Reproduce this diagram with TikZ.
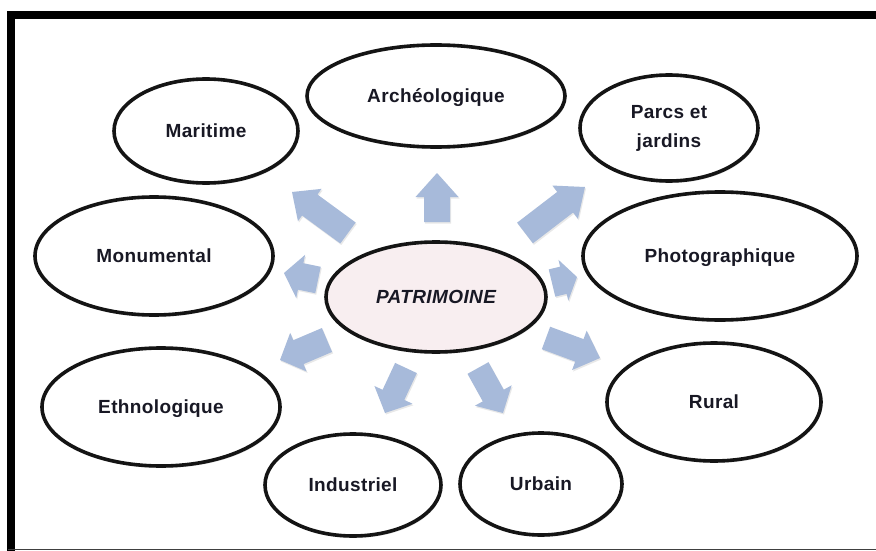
\documentclass[tikz,border=0pt]{standalone}
\usepackage{fontspec}
\newfontfamily\lbl{Liberation Sans}[LetterSpace=2]
\usetikzlibrary{shapes.geometric,calc,shadows}
\definecolor{arrowblue}{RGB}{167,186,218}
\definecolor{patfill}{RGB}{248,238,240}
\definecolor{txt}{RGB}{24,24,36}
\newcommand{\blockarr}[5]{% tail, tip, half shaft, half head, head length
  \coordinate (hb) at ($(#2)!#5!(#1)$);
  \fill[blockarrow] ($(#1)!#3!90:(#2)$) -- ($(hb)!#3!90:(#2)$) -- ($(hb)!#4!90:(#2)$) -- (#2)
    -- ($(hb)!#4!-90:(#2)$) -- ($(hb)!#3!-90:(#2)$) -- ($(#1)!#3!-90:(#2)$) -- cycle;
}
\begin{document}
\begin{tikzpicture}[x=1pt,y=-1pt,
  oval/.style={ellipse, draw=black!92, line width=3.6pt, fill=white, inner sep=0pt,
    font=\lbl\fontsize{19}{29}\selectfont\bfseries, text=txt, align=center,
    drop shadow={shadow xshift=1.2pt, shadow yshift=-2pt, opacity=0.22}},
  oneline/.style={text height=13.6pt, text depth=0pt},
  blockarrow/.style={fill=arrowblue, drop shadow={shadow xshift=1pt, shadow yshift=-1.5pt, opacity=0.18}}]
\fill[white] (0,0) rectangle (876,551);
\useasboundingbox (0,0) rectangle (876,551);
% frame
\draw[line width=8pt, line cap=butt, line join=miter] (11.3,551) -- (11.3,15) -- (876,15);
\draw[line width=1.3pt, black!75] (8,549.5) -- (876,549.5);
% arrow end points
\coordinate (tA) at (437,222); \coordinate (pA) at (437,173);
\coordinate (tM) at (348,233); \coordinate (pM) at (292,192);
\coordinate (tP) at (525,233); \coordinate (pP) at (585,187);
\coordinate (tMo) at (318,280); \coordinate (pMo) at (284,273);
\coordinate (tPh) at (552,283); \coordinate (pPh) at (577,277);
\coordinate (tE) at (327,340); \coordinate (pE) at (280,360);
\coordinate (tR) at (546,338); \coordinate (pR) at (600,358);
\coordinate (tI) at (406,368); \coordinate (pI) at (385,413);
\coordinate (tU) at (478,368); \coordinate (pU) at (503,413);
\blockarr{tA}{pA}{13pt}{21.5pt}{24pt}
\blockarr{tM}{pM}{13pt}{20pt}{22pt}
\blockarr{tP}{pP}{13pt}{21pt}{25pt}
\blockarr{tMo}{pMo}{13.5pt}{22pt}{17pt}
\blockarr{tPh}{pPh}{14pt}{21pt}{14pt}
\blockarr{tE}{pE}{13pt}{21pt}{20pt}
\blockarr{tR}{pR}{12pt}{21pt}{22pt}
\blockarr{tI}{pI}{12pt}{21pt}{20pt}
\blockarr{tU}{pU}{12pt}{21pt}{20pt}
% ellipses
\node[oval, oneline, minimum width=258pt, minimum height=102pt] (arch) at (436,96) {Archéologique};
\node[oval, oneline, minimum width=184pt, minimum height=104pt] (mar) at (206,131) {Maritime};
\node[oval, minimum width=178pt, minimum height=106pt] (parcs) at (669,128) {\raisebox{-2pt}{Parcs et}\\\raisebox{-2pt}{jardins}};
\node[oval, oneline, minimum width=238pt, minimum height=118pt] (mon) at (154,256) {Monumental};
\node[oval, oneline, minimum width=274pt, minimum height=128pt] (photo) at (720,256) {Photographique};
\node[oval, oneline, fill=patfill, minimum width=220pt, minimum height=110pt, font=\lbl\fontsize{19}{22}\selectfont\bfseries\itshape] (patri) at (436,297) {PATRIMOINE};
\node[oval, oneline, minimum width=238pt, minimum height=118pt] (eth) at (161,407) {Ethnologique};
\node[oval, oneline, minimum width=214pt, minimum height=118pt] (rural) at (714,402) {Rural};
\node[oval, oneline, minimum width=176pt, minimum height=102pt] (ind) at (353,485) {Industriel};
\node[oval, oneline, minimum width=162pt, minimum height=102pt] (urb) at (541,484) {Urbain};
\end{tikzpicture}
\end{document}
